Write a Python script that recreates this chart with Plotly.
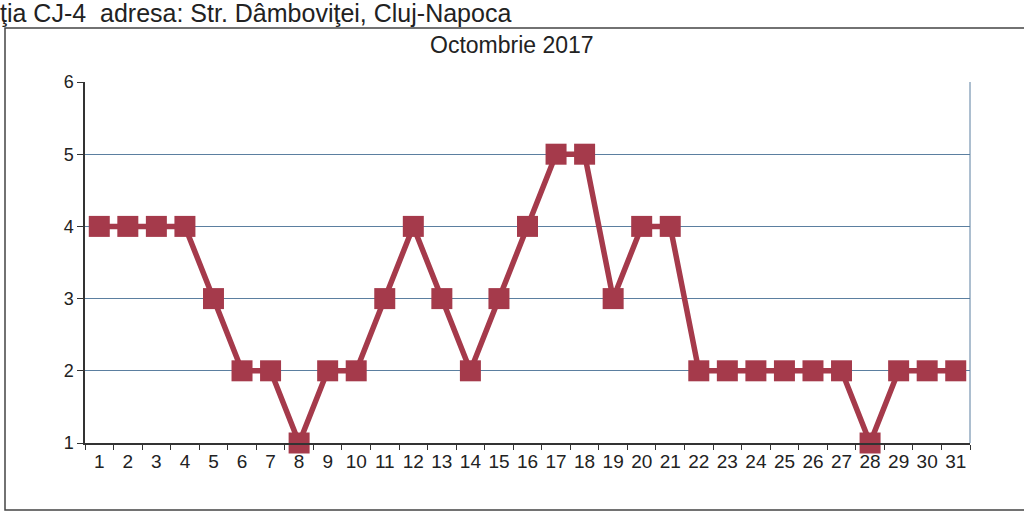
import plotly.graph_objects as go

days = [str(d) for d in range(1, 32)]
values = [4, 4, 4, 4, 3, 2, 2, 1, 2, 2, 3, 4, 3, 2, 3, 4, 5, 5, 3, 4, 4, 2, 2, 2, 2, 2, 2, 1, 2, 2, 2]
y_ticks = [1, 2, 3, 4, 5, 6]

color = "#a53a4b"

fig = go.Figure()
fig.add_trace(go.Scatter(
    x=days, y=values, mode="lines+markers",
    line=dict(color=color, width=5.5),
    marker=dict(symbol="square", size=21, color=color),
    showlegend=False, cliponaxis=False,
))

L, R, T, B = 85, 54, 82, 74
W, H = 1024, 517
pw, ph = W - L - R, H - T - B

def px(x):
    return (x - L) / pw

def py(y):
    return (H - B - y) / ph

fig.update_layout(
    width=W, height=H,
    margin=dict(l=L, r=R, t=T, b=B),
    paper_bgcolor="white", plot_bgcolor="white",
    font=dict(family="Liberation Sans, Arial, sans-serif", color="#222222", size=16),
    xaxis=dict(
        type="category", range=[-0.5, 30.5],
        showgrid=False, showline=True, linecolor="#333333", linewidth=1.5,
        mirror=False, ticks="outside", tickson="boundaries", ticklen=5,
        tickcolor="#333333", tickfont=dict(size=19), tickangle=0,
    ),
    yaxis=dict(
        range=[1, 6], tickvals=y_ticks, showgrid=True,
        gridcolor="#5b7fa0", gridwidth=1,
        showline=True, linecolor="#333333", linewidth=1.5,
        ticks="outside", ticklen=6, tickcolor="#333333",
        tickfont=dict(size=18), zeroline=False,
    ),
    shapes=[
        dict(type="rect", xref="paper", yref="paper",
             x0=px(5), x1=px(1030), y0=py(510), y1=py(28),
             line=dict(color="#444444", width=1.5)),
        dict(type="line", xref="paper", yref="paper",
             x0=1, x1=1, y0=0, y1=1, line=dict(color="#5b7fa0", width=1)),
    ],
    annotations=[
        dict(text="ţia CJ-4  adresa: Str. Dâmboviţei, Cluj-Napoca",
             xref="paper", yref="paper", x=px(-2), y=py(-3),
             xanchor="left", yanchor="top", showarrow=False,
             font=dict(size=25, color="#222222")),
        dict(text="Octombrie 2017", xref="paper", yref="paper",
             x=px(512), y=py(45), xanchor="center", yanchor="middle",
             showarrow=False, font=dict(size=23, color="#222222")),
    ],
)

fig.write_html(
    "out.html",
    config={"displayModeBar": False},
    post_script="document.body.style.margin='0';document.body.style.overflow='hidden';",
)
